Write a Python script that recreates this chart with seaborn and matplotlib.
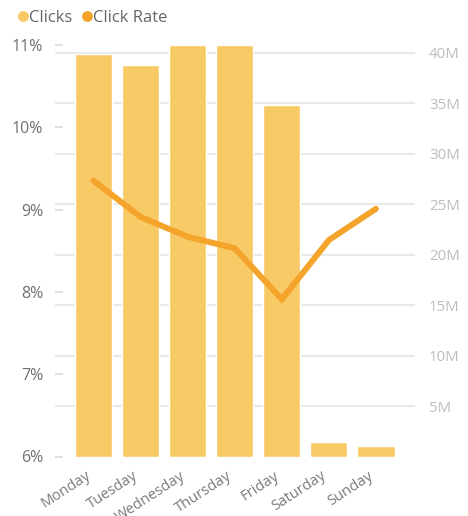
import matplotlib
matplotlib.use("Agg")
import matplotlib.pyplot as plt
from matplotlib.lines import Line2D
from matplotlib.ticker import FuncFormatter, FixedLocator
from matplotlib.transforms import ScaledTranslation
import seaborn as sns
import pandas as pd

# Weekly click data
days = ["Monday", "Tuesday", "Wednesday", "Thursday", "Friday", "Saturday", "Sunday"]
clicks_m = [39.9, 38.8, 40.8, 40.8, 34.8, 1.4, 1.0]          # millions of clicks
click_rate = [9.35, 8.91, 8.67, 8.53, 7.91, 8.63, 9.01]      # percent

rate_ticks = [6, 7, 8, 9, 10, 11]
clicks_ticks = [5, 10, 15, 20, 25, 30, 35, 40]

df = pd.DataFrame({"Day": days, "Clicks": clicks_m, "Click Rate": click_rate})

BAR_COLOR = "#F8CA66"
LINE_COLOR = "#F4A42B"
GRID_COLOR = "#E9E9E9"

sns.set_theme(style="white")
plt.rcParams["font.family"] = ["Open Sans", "DejaVu Sans"]

W, H = 468, 516
fig = plt.figure(figsize=(W / 100, H / 100), dpi=100)
left, right, top, bottom = 55, 415, 45, 456.5
ax_rate = fig.add_axes([left / W, 1 - bottom / H, (right - left) / W, (bottom - top) / H])
ax_clicks = ax_rate.twinx()

# Bars: clicks on the right-hand axis
sns.barplot(data=df, x="Day", y="Clicks", color=BAR_COLOR, width=0.79,
            saturation=1, ax=ax_clicks, zorder=2)
ax_clicks.set_ylim(0, 40.77)
ax_clicks.yaxis.set_major_locator(FixedLocator(clicks_ticks))
ax_clicks.yaxis.set_major_formatter(FuncFormatter(lambda v, p: f"{v:g}M"))
ax_clicks.grid(axis="y", color=GRID_COLOR, linewidth=1.5, zorder=0)
ax_clicks.set_axisbelow(True)
ax_clicks.tick_params(axis="y", length=0, pad=10, labelsize=10.8, labelcolor="#BDBDBD")
ax_clicks.set_ylabel("")

# Line: click rate on the left-hand axis, drawn above the bars
sns.lineplot(data=df, x="Day", y="Click Rate", color=LINE_COLOR, linewidth=4.3,
             sort=False, ax=ax_rate, solid_capstyle="round", solid_joinstyle="miter")
ax_rate.set_zorder(ax_clicks.get_zorder() + 1)
ax_rate.patch.set_visible(False)
ax_rate.set_ylim(6, 11)
ax_rate.yaxis.set_major_locator(FixedLocator(rate_ticks))
ax_rate.yaxis.set_major_formatter(FuncFormatter(lambda v, p: f"{v:g}%"))
ax_rate.tick_params(axis="y", direction="in", length=6, width=1.3, color="#DDDDDD",
                    pad=8.5, labelsize=11.5, labelcolor="#707070")
ax_rate.set_ylabel("")
ax_rate.set_xlabel("")
ax_clicks.set_xlabel("")

ax_rate.set_xlim(-0.82, 6.83)
ax_rate.tick_params(axis="x", length=0, pad=8.5, labelsize=10.6, labelcolor="#7A7A7A")
shift = ScaledTranslation(-8 / 100, 0, fig.dpi_scale_trans)
for lbl in ax_rate.get_xticklabels():
    lbl.set_rotation(33)
    lbl.set_ha("right")
    lbl.set_rotation_mode("anchor")
    lbl.set_transform(lbl.get_transform() + shift)

for a in (ax_rate, ax_clicks):
    for s in a.spines.values():
        s.set_visible(False)

# Legend across the top
handles = [
    Line2D([], [], marker="o", linestyle="none", markersize=7.8,
           markerfacecolor=BAR_COLOR, markeredgecolor="none", label="Clicks"),
    Line2D([], [], marker="o", linestyle="none", markersize=7.8,
           markerfacecolor=LINE_COLOR, markeredgecolor="none", label="Click Rate"),
]
fig.legend(handles=handles, loc="center left", bbox_to_anchor=(15 / W, 1 - 17.5 / H),
           ncol=2, frameon=False, handletextpad=-0.15, columnspacing=0.4,
           handlelength=1.0, borderaxespad=0, borderpad=0,
           prop={"size": 12}, labelcolor="#666666")

fig.savefig("out.png", dpi=100)
